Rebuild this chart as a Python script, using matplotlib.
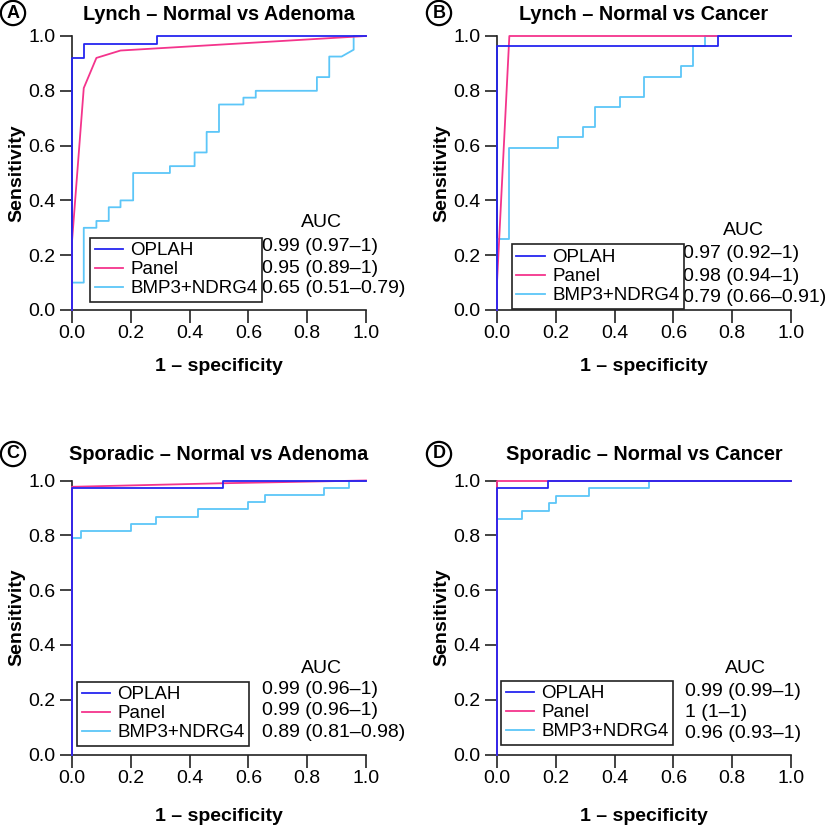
"""ROC curves: OPLAH, Panel and BMP3+NDRG4 in Lynch and sporadic cohorts."""

import matplotlib.pyplot as plt

SERIES = ["OPLAH", "Panel", "BMP3+NDRG4"]
COLORS = ["#2525F0", "#F4348C", "#5CC6F8"]

TITLES = [
    "Lynch \u2013 Normal vs Adenoma",
    "Lynch \u2013 Normal vs Cancer",
    "Sporadic \u2013 Normal vs Adenoma",
    "Sporadic \u2013 Normal vs Cancer",
]
LETTERS = ["A", "B", "C", "D"]

AUC_A = ["0.99 (0.97\u20131)", "0.95 (0.89\u20131)", "0.65 (0.51\u20130.79)"]
AUC_B = ["0.97 (0.92\u20131)", "0.98 (0.94\u20131)", "0.79 (0.66\u20130.91)"]
AUC_C = ["0.99 (0.96\u20131)", "0.99 (0.96\u20131)", "0.89 (0.81\u20130.98)"]
AUC_D = ["0.99 (0.99\u20131)", "1 (1\u20131)", "0.96 (0.93\u20131)"]

# A: Lynch, normal vs adenoma
a_oplah_fpr = [0, 0, 0.042, 0.042, 0.29, 0.29, 1]
a_oplah_tpr = [0, 0.92, 0.92, 0.97, 0.97, 1, 1]
a_panel_fpr = [0, 0, 0.04, 0.083, 0.165, 1]
a_panel_tpr = [0, 0.25, 0.81, 0.92, 0.947, 1]
a_bmp_fpr = [0, 0, 0.04, 0.04, 0.083, 0.083, 0.125, 0.125, 0.165, 0.165, 0.208, 0.208,
             0.333, 0.333, 0.417, 0.417, 0.458, 0.458, 0.5, 0.5, 0.583, 0.583, 0.625, 0.625,
             0.833, 0.833, 0.875, 0.875, 0.917, 0.958, 0.958, 1]
a_bmp_tpr = [0, 0.1, 0.1, 0.3, 0.3, 0.325, 0.325, 0.375, 0.375, 0.4, 0.4, 0.5,
             0.5, 0.525, 0.525, 0.575, 0.575, 0.65, 0.65, 0.75, 0.75, 0.775, 0.775, 0.8,
             0.8, 0.85, 0.85, 0.925, 0.925, 0.95, 1, 1]

# B: Lynch, normal vs cancer
b_oplah_fpr = [0, 0, 0.75, 0.75, 1]
b_oplah_tpr = [0, 0.963, 0.963, 1, 1]
b_panel_fpr = [0, 0, 0.042, 1]
b_panel_tpr = [0, 0.1, 1, 1]
b_bmp_fpr = [0, 0, 0.042, 0.042, 0.208, 0.208, 0.292, 0.292, 0.333, 0.333, 0.417,
             0.417, 0.5, 0.5, 0.625, 0.625, 0.667, 0.667, 0.708, 0.708, 1]
b_bmp_tpr = [0, 0.259, 0.259, 0.593, 0.593, 0.63, 0.63, 0.667, 0.667, 0.741, 0.741,
             0.778, 0.778, 0.852, 0.852, 0.889, 0.889, 0.963, 0.963, 1, 1]

# C: sporadic, normal vs adenoma
c_oplah_fpr = [0, 0, 0.514, 0.514, 1]
c_oplah_tpr = [0, 0.972, 0.972, 1, 1]
c_panel_fpr = [0, 0, 0.514, 1]
c_panel_tpr = [0, 0.977, 0.99, 1]
c_bmp_fpr = [0, 0, 0.029, 0.029, 0.2, 0.2, 0.286, 0.286, 0.429, 0.429, 0.6, 0.6,
             0.657, 0.657, 0.857, 0.857, 0.943, 0.943, 1]
c_bmp_tpr = [0, 0.789, 0.789, 0.816, 0.816, 0.842, 0.842, 0.868, 0.868, 0.895, 0.895,
             0.921, 0.921, 0.947, 0.947, 0.974, 0.974, 1, 1]

# D: sporadic, normal vs cancer
d_oplah_fpr = [0, 0, 0.172, 0.172, 1]
d_oplah_tpr = [0, 0.972, 0.972, 1, 1]
d_panel_fpr = [0, 0, 1]
d_panel_tpr = [0, 1, 1]
d_bmp_fpr = [0, 0, 0.086, 0.086, 0.176, 0.176, 0.2, 0.2, 0.314, 0.314, 0.517, 0.517, 1]
d_bmp_tpr = [0, 0.861, 0.861, 0.889, 0.889, 0.917, 0.917, 0.944, 0.944, 0.972, 0.972, 1, 1]

TICKS = [0.0, 0.2, 0.4, 0.6, 0.8, 1.0]

plt.rcParams["font.family"] = ["Liberation Sans", "DejaVu Sans"]
plt.rcParams["font.size"] = 14

W, H = 830, 825


def _ax_rect(left_px: float, zero_px: float) -> list[float]:
    # axes box from pixel position of (0, 0) corner, 294 x 274 px
    return [left_px / W, (H - zero_px) / H, 294 / W, 274 / H]


def _draw(ax, curves, aucs, leg_xy, val_x, val_ys, auc_xy, xlabelpad):
    # curves drawn bmp -> panel -> oplah so OPLAH sits on top
    for i in (2, 1, 0):
        fpr, tpr = curves[i]
        ax.plot(fpr, tpr, color=COLORS[i], linewidth=1.3, clip_on=False, zorder=3 + (2 - i))
    ax.set_xlim(0, 1)
    ax.set_ylim(0, 1)
    ax.set_xticks(TICKS, [f"{t:.1f}" for t in TICKS])
    ax.set_yticks(TICKS, [f"{t:.1f}" for t in TICKS])
    ax.tick_params(axis="x", length=9, width=1.2, pad=2, color="#222222")
    ax.tick_params(axis="y", length=9, width=1.2, pad=3, color="#222222")
    ax.spines["top"].set_visible(False)
    ax.spines["right"].set_visible(False)
    ax.spines["left"].set_linewidth(1.2)
    ax.spines["bottom"].set_linewidth(1.2)
    ax.spines["left"].set_color("#222222")
    ax.spines["bottom"].set_color("#222222")
    ax.set_xlabel("1 \u2013 specificity", fontweight="bold", labelpad=xlabelpad)
    ax.set_ylabel("Sensitivity", fontweight="bold", labelpad=2)

    handles = [plt.Line2D([], [], color=c, linewidth=1.3) for c in COLORS]
    leg = ax.legend(handles, SERIES, loc="lower left", bbox_to_anchor=leg_xy, borderaxespad=0,
                    fancybox=False, edgecolor="#222222", framealpha=1, borderpad=0.25,
                    handlelength=1.5, handletextpad=0.4, labelspacing=0.1, fontsize=13.5)
    leg.get_frame().set_linewidth(1.2)
    leg.set_zorder(6)

    ax.text(auc_xy[0], auc_xy[1], "AUC", transform=ax.transAxes, ha="center", va="center")
    for s, y in zip(aucs, val_ys):
        ax.text(val_x, y, s, transform=ax.transAxes, ha="left", va="center")


fig = plt.figure(figsize=(W / 100, H / 100), dpi=100)

ax_a = fig.add_axes(_ax_rect(72, 310))
_draw(ax_a, [(a_oplah_fpr, a_oplah_tpr), (a_panel_fpr, a_panel_tpr), (a_bmp_fpr, a_bmp_tpr)],
      AUC_A, (0.061, 0.029), 0.646, [0.23, 0.153, 0.08], (0.85, 0.318), 11)

ax_b = fig.add_axes(_ax_rect(497, 310))
_draw(ax_b, [(b_oplah_fpr, b_oplah_tpr), (b_panel_fpr, b_panel_tpr), (b_bmp_fpr, b_bmp_tpr)],
      AUC_B, (0.05, 0.004), 0.634, [0.208, 0.124, 0.047], (0.837, 0.289), 11)

ax_c = fig.add_axes(_ax_rect(72, 754.5))
_draw(ax_c, [(c_oplah_fpr, c_oplah_tpr), (c_panel_fpr, c_panel_tpr), (c_bmp_fpr, c_bmp_tpr)],
      AUC_C, (0.017, 0.031), 0.646, [0.237, 0.159, 0.082], (0.85, 0.314), 15.5)

ax_d = fig.add_axes(_ax_rect(497, 754.5))
_draw(ax_d, [(d_oplah_fpr, d_oplah_tpr), (d_panel_fpr, d_panel_tpr), (d_bmp_fpr, d_bmp_tpr)],
      AUC_D, (0.014, 0.034), 0.639, [0.231, 0.152, 0.077], (0.844, 0.314), 15.5)

# titles and circled panel letters (pixel positions of the reference)
title_pos = [(219, 14), (644, 14), (219, 455), (644, 455)]
letter_pos = [(13, 13), (439, 13), (13, 454), (439, 454)]
for title, letter, (tx, ty), (lx, ly) in zip(TITLES, LETTERS, title_pos, letter_pos):
    fig.text(tx / W, 1 - ty / H, title, ha="center", va="center", fontweight="bold", fontsize=14.3)
    fig.text(lx / W, 1 - ly / H, letter, ha="center", va="center", fontweight="bold", fontsize=13,
             bbox=dict(boxstyle="circle,pad=0.2", fc="white", ec="black", lw=1.6))

fig.savefig("out.png", dpi=100)
